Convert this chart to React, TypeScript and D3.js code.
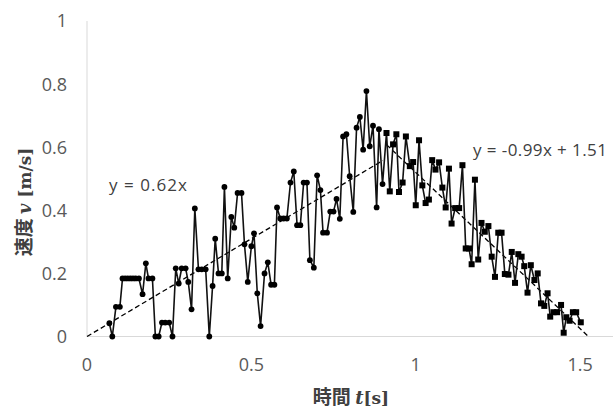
import React from "react";
import * as d3 from "d3";

// acceleration phase (circle markers)
const accelT = [0.068, 0.077, 0.088, 0.1, 0.108, 0.116, 0.124, 0.132, 0.14, 0.148, 0.158, 0.169, 0.179, 0.187, 0.199, 0.208, 0.218, 0.228, 0.238, 0.25, 0.26, 0.27, 0.279, 0.288, 0.3, 0.308, 0.318, 0.328, 0.339, 0.349, 0.361, 0.372, 0.382, 0.39, 0.4, 0.41, 0.418, 0.428, 0.439, 0.448, 0.458, 0.47, 0.479, 0.489, 0.5, 0.508, 0.518, 0.528, 0.54, 0.55, 0.56, 0.57, 0.578, 0.588, 0.598, 0.608, 0.619, 0.629, 0.639, 0.649, 0.659, 0.669, 0.678, 0.69, 0.7, 0.71, 0.718, 0.73, 0.74, 0.75, 0.759, 0.769, 0.779, 0.789, 0.799, 0.81, 0.82, 0.83, 0.84, 0.85, 0.86, 0.87, 0.881, 0.888, 0.899];
const accelV = [0.042, 0, 0.094, 0.094, 0.184, 0.184, 0.184, 0.184, 0.184, 0.184, 0.184, 0.134, 0.232, 0.184, 0.184, 0, 0, 0.044, 0.044, 0.044, 0, 0.216, 0.168, 0.216, 0.216, 0.173, 0.086, 0.406, 0.213, 0.213, 0.213, 0, 0.16, 0.31, 0.2, 0.2, 0.474, 0.184, 0.379, 0.345, 0.455, 0.455, 0.292, 0.173, 0.286, 0.327, 0.137, 0.033, 0.2, 0.235, 0.164, 0.164, 0.409, 0.374, 0.374, 0.374, 0.488, 0.523, 0.353, 0.353, 0.488, 0.488, 0.242, 0.218, 0.511, 0.464, 0.329, 0.329, 0.396, 0.396, 0.436, 0.373, 0.634, 0.641, 0.508, 0.395, 0.662, 0.696, 0.592, 0.778, 0.603, 0.668, 0.409, 0.657, 0.483];

// deceleration phase (square markers)
const decelT = [0.911, 0.921, 0.931, 0.941, 0.949, 0.96, 0.97, 0.982, 0.992, 1.0, 1.01, 1.02, 1.03, 1.04, 1.05, 1.06, 1.071, 1.081, 1.091, 1.101, 1.109, 1.12, 1.132, 1.142, 1.152, 1.162, 1.17, 1.18, 1.19, 1.2, 1.21, 1.221, 1.231, 1.241, 1.251, 1.261, 1.271, 1.282, 1.292, 1.302, 1.312, 1.322, 1.33, 1.34, 1.35, 1.361, 1.371, 1.381, 1.391, 1.401, 1.409, 1.419, 1.43, 1.442, 1.45, 1.458, 1.468, 1.478, 1.488, 1.502];
const decelV = [0.645, 0.46, 0.609, 0.641, 0.458, 0.488, 0.634, 0.54, 0.553, 0.416, 0.622, 0.479, 0.423, 0.434, 0.559, 0.529, 0.552, 0.472, 0.409, 0.532, 0.358, 0.407, 0.407, 0.543, 0.279, 0.279, 0.229, 0.497, 0.244, 0.36, 0.332, 0.35, 0.253, 0.189, 0.329, 0.329, 0.198, 0.196, 0.268, 0.17, 0.261, 0.253, 0.223, 0.139, 0.226, 0.179, 0.2, 0.105, 0.097, 0.137, 0.063, 0.077, 0.077, 0.1, 0.012, 0.061, 0.05, 0.077, 0.077, 0.045];

// trend lines: [slope, intercept, xStart, xEnd]
const accelFit = [0.62, 0, 0, 0.9];
const decelFit = [-0.99, 1.51, 0.911, 1.525];
const accelFitLabel = "y = 0.62x";
const decelFitLabel = "y = -0.99x + 1.51";

const xTicks = [0, 0.5, 1, 1.5];
const yTicks = [0, 0.2, 0.4, 0.6, 0.8, 1];

export default function App() {
  const width = 613;
  const height = 408;
  const marginLeft = 87;
  const marginTop = 21;
  const plotBottom = 336.5;

  const x = d3.scaleLinear().domain([0, 1.6]).range([marginLeft, width]);
  const y = d3.scaleLinear().domain([0, 1]).range([plotBottom, marginTop]);

  const accel = accelT.map((t, i) => [t, accelV[i]]);
  const decel = decelT.map((t, i) => [t, decelV[i]]);
  const all = accel.concat(decel);

  const line = d3
    .line()
    .x(d => x(d[0]))
    .y(d => y(d[1]));

  const fitPoints = (f: number[]) => [
    [f[2], f[0] * f[2] + f[1]],
    [f[3], f[0] * f[3] + f[1]],
  ];

  const tickFont = "'Open Sans', 'Liberation Sans', sans-serif";
  const tickColor = "#595959";

  return (
    <svg
      width={width}
      height={height}
      style={{ position: "absolute", left: 0, top: 0, background: "#fff" }}
    >
      {/* axes */}
      <line x1={marginLeft} x2={marginLeft} y1={y(1)} y2={plotBottom} stroke="#d9d9d9" />
      <line x1={marginLeft} x2={width} y1={plotBottom} y2={plotBottom} stroke="#d9d9d9" />

      {yTicks.map(t => (
        <text
          key={"y" + t}
          x={67}
          y={y(t)}
          dy="0.36em"
          textAnchor="end"
          fontFamily={tickFont}
          fontSize={18}
          fill={tickColor}
        >
          {t}
        </text>
      ))}
      {xTicks.map(t => (
        <text
          key={"x" + t}
          x={x(t)}
          y={371}
          textAnchor="middle"
          fontFamily={tickFont}
          fontSize={18}
          fill={tickColor}
        >
          {t}
        </text>
      ))}

      {/* trend lines */}
      {[accelFit, decelFit].map((f, i) => (
        <path
          key={"fit" + i}
          d={line(fitPoints(f) as [number, number][]) || ""}
          fill="none"
          stroke="#000"
          strokeWidth={1.3}
          strokeDasharray="5 3"
        />
      ))}

      {/* data */}
      <path
        d={line(all as [number, number][]) || ""}
        fill="none"
        stroke="#111"
        strokeWidth={1.6}
      />
      {accel.map((d, i) => (
        <circle key={"c" + i} cx={x(d[0])} cy={y(d[1])} r={2.9} fill="#000" />
      ))}
      {decel.map((d, i) => (
        <rect
          key={"s" + i}
          x={x(d[0]) - 3}
          y={y(d[1]) - 3}
          width={6}
          height={6}
          fill="#000"
        />
      ))}

      {/* trend equations */}
      <text x={109} y={191} fontFamily={tickFont} fontSize={17} fill="#404040" textLength={78}>
        {accelFitLabel}
      </text>
      <text x={473} y={156} fontFamily={tickFont} fontSize={17} fill="#404040" textLength={134}>
        {decelFitLabel}
      </text>

      {/* axis titles */}
      <text
        transform="translate(31,202) rotate(-90)"
        textAnchor="middle"
        fontWeight="bold"
        fontSize={19}
        fill="#404040"
      >
        <tspan fontFamily="'Noto Sans CJK JP', sans-serif">速度 </tspan>
        <tspan fontFamily="'DejaVu Serif', serif" fontStyle="italic" fontSize={18}>v</tspan>
        <tspan fontFamily="'DejaVu Serif', serif" fontSize={17}> [m/s]</tspan>
      </text>
      <text x={351} y={404} textAnchor="middle" fontWeight="bold" fontSize={19} fill="#404040">
        <tspan fontFamily="'Noto Sans CJK JP', sans-serif">時間 </tspan>
        <tspan fontFamily="'DejaVu Serif', serif" fontStyle="italic" fontSize={18}>t</tspan>
        <tspan fontFamily="'DejaVu Serif', serif" fontSize={17}>[s]</tspan>
      </text>
    </svg>
  );
}
